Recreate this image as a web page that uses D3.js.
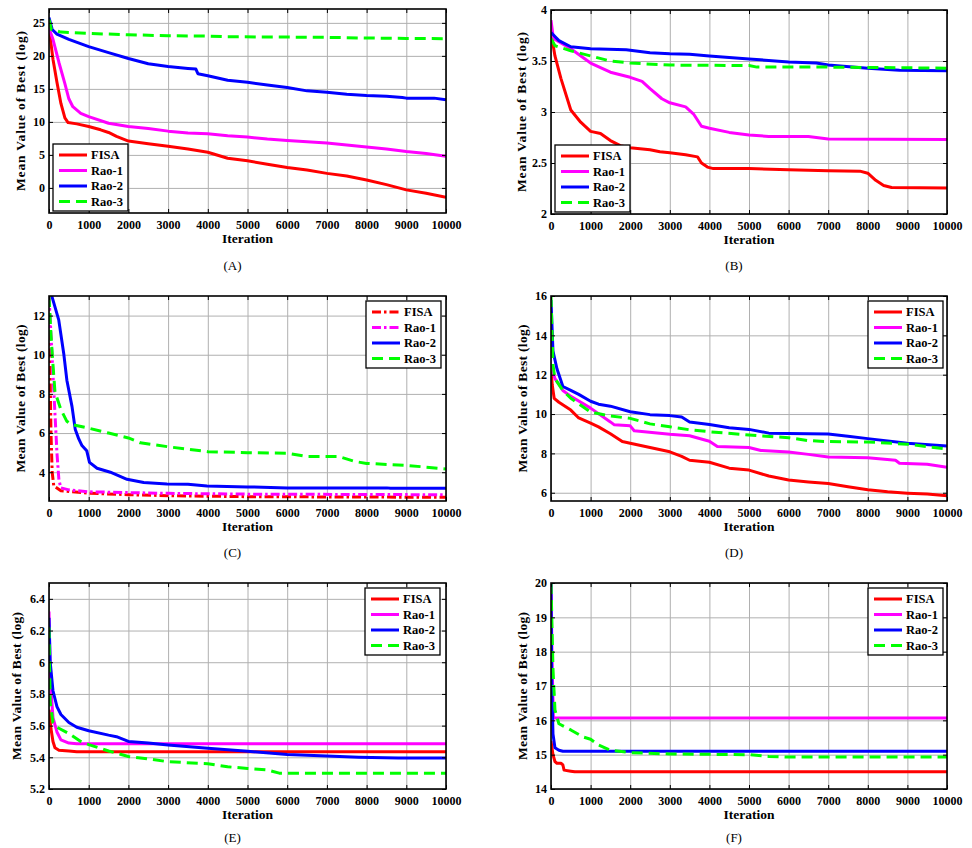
<!DOCTYPE html>
<html><head><meta charset="utf-8">
<script src="https://cdn.jsdelivr.net/npm/d3@7"></script>
<style>
body{margin:0;background:#fff}
svg{display:block}
text{font-family:"Liberation Serif","Times New Roman",serif}
</style>
</head><body>
<svg id="chart" width="972" height="848"></svg>
<script>
// ---------- shared ----------
const xTicks = [0,1000,2000,3000,4000,5000,6000,7000,8000,9000,10000];
const seriesNames = ["FISA","Rao-1","Rao-2","Rao-3"];
const seriesColors = ["#ff0000","#ff00ff","#0000ff","#00ff00"];
const panelLabels = ["(A)","(B)","(C)","(D)","(E)","(F)"];
const xTitle = "Iteration";
const yTitle = "Mean Value of Best (log)";

// ---------- panel A ----------
const yTicksA = [0,5,10,15,20,25];
const A_FISA = [[0,24.2],[100,19.5],[200,16],[300,12.8],[400,10.6],[480,9.9],[700,9.7],[1000,9.3],[1300,8.8],[1500,8.4],[1700,7.8],[2000,7.1],[2500,6.7],[3000,6.3],[3500,5.9],[4000,5.4],[4500,4.5],[5000,4.1],[5500,3.6],[6000,3.1],[6500,2.7],[7000,2.2],[7500,1.8],[8000,1.2],[8500,0.5],[9000,-0.3],[9500,-0.8],[10000,-1.4]];
const A_RAO1 = [[0,24.2],[100,22.5],[250,19],[400,15.8],[500,13.5],[600,12.3],[800,11.3],[1000,10.8],[1500,9.8],[2000,9.3],[2500,9.0],[3000,8.6],[3500,8.3],[4000,8.2],[4500,7.9],[5000,7.7],[5500,7.4],[6000,7.2],[6500,7.0],[7000,6.8],[7500,6.5],[8000,6.2],[8500,5.9],[9000,5.5],[9500,5.2],[10000,4.8]];
const A_RAO2 = [[0,25.8],[80,24],[200,23.3],[500,22.5],[1000,21.4],[1500,20.5],[2000,19.6],[2500,18.8],[3000,18.4],[3500,18.1],[3700,18.0],[3750,17.3],[4000,17.0],[4500,16.3],[5000,16.0],[5500,15.6],[6000,15.2],[6500,14.7],[7000,14.5],[7500,14.2],[8000,14.0],[8500,13.9],[8900,13.7],[9000,13.6],[9700,13.6],[10000,13.35]];
const A_RAO3 = [[0,25.5],[60,24],[300,23.6],[1000,23.4],[2000,23.2],[3000,23.05],[4000,23.0],[4500,22.9],[6000,22.85],[7000,22.8],[8000,22.7],[9000,22.65],[10000,22.6]];

// ---------- panel B ----------
const yTicksB = [2,2.5,3,3.5,4];
const B_FISA = [[0,3.78],[100,3.55],[250,3.33],[500,3.02],[750,2.9],[1000,2.81],[1250,2.79],[1500,2.72],[1750,2.67],[2000,2.65],[2500,2.63],[2750,2.61],[3000,2.6],[3400,2.58],[3700,2.56],[3800,2.5],[3950,2.46],[4100,2.445],[5000,2.445],[6000,2.435],[7000,2.425],[7800,2.42],[8000,2.4],[8200,2.33],[8400,2.28],[8600,2.26],[10000,2.255]];
const B_RAO1 = [[0,3.9],[60,3.72],[500,3.62],[1000,3.48],[1500,3.39],[2000,3.34],[2300,3.3],[2500,3.23],[2800,3.13],[3000,3.09],[3400,3.05],[3600,2.98],[3800,2.86],[4000,2.84],[4500,2.8],[5000,2.775],[5500,2.76],[6500,2.76],[7000,2.735],[10000,2.73]];
const B_RAO2 = [[0,3.78],[200,3.7],[500,3.64],[1000,3.62],[1900,3.61],[2500,3.58],[3000,3.57],[3500,3.565],[4000,3.55],[5000,3.52],[6000,3.49],[6700,3.48],[7000,3.46],[8000,3.43],[8800,3.41],[10000,3.405]];
const B_RAO3 = [[0,3.72],[100,3.65],[500,3.6],[1000,3.55],[1500,3.5],[2000,3.48],[3000,3.46],[5000,3.455],[5200,3.44],[7000,3.44],[10000,3.43]];

// ---------- panel C ----------
const yTicksC = [4,6,8,10,12];
const C_FISA = [[0,13],[20,10],[50,6],[80,4],[120,3.3],[300,3.05],[1000,2.93],[2000,2.85],[3000,2.8],[5000,2.75],[10000,2.72]];
const C_RAO1 = [[0,13],[100,9],[150,7],[200,5],[250,3.6],[300,3.2],[500,3.1],[1000,3.0],[2000,2.96],[3000,2.92],[5000,2.88],[10000,2.85]];
const C_RAO2 = [[0,14],[75,12.97],[245,11.78],[370,10.08],[450,8.7],[580,7.35],[660,6.2],[750,5.7],[830,5.36],[950,5.1],[1020,4.5],[1210,4.2],[1545,4.0],[1965,3.64],[2385,3.47],[2970,3.4],[3500,3.38],[3980,3.3],[4990,3.25],[6000,3.2],[8510,3.2],[8600,3.18],[10000,3.18]];
const C_RAO3 = [[0,13],[50,11],[100,9.5],[150,8.1],[300,7.2],[450,6.6],[550,6.45],[1000,6.25],[1500,6.0],[2000,5.75],[2300,5.5],[3000,5.3],[4000,5.05],[5000,5.0],[6000,4.97],[6500,4.8],[7300,4.8],[7700,4.55],[8000,4.45],[9000,4.35],[10000,4.17]];

// ---------- panel D ----------
const yTicksD = [6,8,10,12,14,16];
const D_FISA = [[0,12.4],[30,11.5],[80,10.8],[200,10.6],[500,10.2],[700,9.8],[1000,9.54],[1200,9.35],[1500,9.0],[1800,8.6],[2000,8.52],[2500,8.3],[3000,8.08],[3300,7.85],[3500,7.65],[4000,7.55],[4500,7.25],[5000,7.15],[5500,6.85],[6000,6.65],[6500,6.55],[7000,6.47],[7500,6.3],[8000,6.15],[8500,6.05],[9000,5.98],[9500,5.93],[10000,5.85]];
const D_RAO1 = [[0,12.5],[100,11.8],[300,11.2],[500,10.9],[1000,10.3],[1500,9.6],[1600,9.45],[2000,9.4],[2100,9.15],[3000,8.97],[3500,8.9],[4000,8.62],[4200,8.35],[5000,8.3],[5300,8.15],[6000,8.07],[6500,7.95],[7000,7.82],[8000,7.78],[8700,7.65],[8800,7.5],[9500,7.45],[10000,7.3]];
const D_RAO2 = [[0,15.8],[50,13.2],[150,12.3],[300,11.4],[500,11.2],[700,11.0],[1000,10.65],[1200,10.5],[1500,10.4],[2000,10.12],[2500,9.97],[3000,9.92],[3300,9.85],[3500,9.6],[4000,9.47],[4500,9.3],[5000,9.22],[5500,9.03],[7000,8.98],[7500,8.87],[8000,8.75],[9000,8.52],[10000,8.38]];
const D_RAO3 = [[0,16],[50,12.5],[100,11.8],[300,11.2],[500,10.8],[1000,10.1],[1500,9.9],[2000,9.78],[2500,9.5],[3000,9.35],[3500,9.2],[4000,9.1],[5000,8.93],[6000,8.8],[6500,8.65],[7000,8.6],[8000,8.58],[9000,8.47],[10000,8.22]];

// ---------- panel E ----------
const yTicksE = [5.2,5.4,5.6,5.8,6,6.2,6.4];
const E_FISA = [[0,5.7],[50,5.58],[100,5.5],[150,5.46],[250,5.445],[500,5.44],[700,5.435],[10000,5.435]];
const E_RAO1 = [[0,6.32],[30,5.9],[100,5.65],[200,5.56],[300,5.51],[500,5.49],[700,5.485],[10000,5.485]];
const E_RAO2 = [[0,6.28],[30,6.0],[100,5.82],[200,5.72],[300,5.67],[500,5.62],[700,5.59],[1000,5.568],[1500,5.54],[1700,5.53],[2000,5.5],[2500,5.49],[3000,5.478],[4000,5.457],[5000,5.438],[6000,5.418],[7000,5.408],[7800,5.4],[8800,5.395],[10000,5.395]];
const E_RAO3 = [[0,6.22],[30,5.75],[100,5.62],[200,5.59],[500,5.55],[800,5.5],[1000,5.48],[1500,5.44],[2000,5.405],[2500,5.39],[3000,5.372],[4000,5.36],[4500,5.34],[5000,5.33],[5500,5.32],[5800,5.3],[10000,5.3]];

// ---------- panel F ----------
const yTicksF = [14,15,16,17,18,19,20];
const F_FISA = [[0,15.4],[50,15.0],[100,14.8],[150,14.75],[250,14.75],[300,14.7],[330,14.55],[500,14.52],[600,14.5],[10000,14.5]];
const F_RAO1 = [[0,20],[30,17.5],[60,16.1],[100,16.07],[10000,16.07]];
const F_RAO2 = [[0,20],[20,17],[50,15.6],[100,15.2],[200,15.13],[300,15.1],[10000,15.1]];
const F_RAO3 = [[0,20],[50,17.5],[100,16.3],[150,16.1],[200,15.9],[500,15.72],[800,15.52],[1000,15.45],[1200,15.28],[1500,15.13],[2000,15.06],[3000,15.02],[5000,15.0],[5500,14.95],[6000,14.93],[10000,14.93]];

// ---------- layout / style ----------
const DASH = "11,6", DASHDOT = "9,3,2.5,3";
const panels = [
  {left:49, top:9,   w:397, h:204, yDom:[-3.8,27.1], yTicks:yTicksA, series:[A_FISA,A_RAO1,A_RAO2,A_RAO3], legend:"bl", dashes:[null,null,null,DASH], labelY:265, titleX:25, titleLen:160, legRight:4},
  {left:551,top:10,  w:396, h:204, yDom:[2,4],       yTicks:yTicksB, series:[B_FISA,B_RAO1,B_RAO2,B_RAO3], legend:"bl", dashes:[null,null,null,DASH], labelY:265, titleX:526, titleLen:160, legRight:4},
  {left:49, top:296, w:397, h:205, yDom:[2.53,13],   yTicks:yTicksC, series:[C_FISA,C_RAO1,C_RAO2,C_RAO3], legend:"tr", dashes:[DASHDOT,DASHDOT,null,DASH], labelY:552, titleX:25, titleLen:148, legRight:5},
  {left:551,top:296, w:396, h:205, yDom:[5.58,16],   yTicks:yTicksD, series:[D_FISA,D_RAO1,D_RAO2,D_RAO3], legend:"tr", dashes:[null,null,null,DASH], labelY:552, titleX:527, titleLen:148, legRight:4},
  {left:49, top:583, w:397, h:206, yDom:[5.2,6.5],   yTicks:yTicksE, series:[E_FISA,E_RAO1,E_RAO2,E_RAO3], legend:"tr", dashes:[null,null,null,DASH], labelY:837, titleX:21, titleLen:148, legRight:6},
  {left:551,top:583, w:396, h:206, yDom:[14,20],     yTicks:yTicksF, series:[F_FISA,F_RAO1,F_RAO2,F_RAO3], legend:"tr", dashes:[null,null,null,DASH], labelY:837, titleX:527, titleLen:148, legRight:4}
];

const svg = d3.select("#chart");
const defs = svg.append("defs");

panels.forEach((p, pi) => {
  const x = d3.scaleLinear().domain([0,10000]).range([0,p.w]);
  const y = d3.scaleLinear().domain(p.yDom).range([p.h,0]);
  const g = svg.append("g").attr("transform",`translate(${p.left},${p.top})`);

  defs.append("clipPath").attr("id","clip"+pi)
    .append("rect").attr("x",0).attr("y",0).attr("width",p.w).attr("height",p.h);

  g.append("rect").attr("width",p.w).attr("height",p.h).attr("fill","#fff");

  // grid
  const gx = g.append("g").attr("transform",`translate(0,${p.h})`)
    .call(d3.axisBottom(x).tickValues(xTicks).tickSize(-p.h).tickFormat(""));
  const gy = g.append("g")
    .call(d3.axisLeft(y).tickValues(p.yTicks).tickSize(-p.w).tickFormat(""));
  [gx,gy].forEach(a => {
    a.select(".domain").remove();
    a.selectAll("line").attr("stroke","#b0b0b0").attr("stroke-width",1);
  });

  // lines
  const line = d3.line().x(d => x(d[0])).y(d => y(d[1]));
  const lg = g.append("g").attr("clip-path",`url(#clip${pi})`);
  p.series.forEach((s, si) => {
    lg.append("path").datum(s).attr("d",line)
      .attr("fill","none").attr("stroke",seriesColors[si])
      .attr("stroke-width",3).attr("stroke-linejoin","round")
      .attr("stroke-dasharray",p.dashes[si]);
  });

  // axes with inward ticks
  const fmt = d3.format("~g");
  const ab = g.append("g").attr("transform",`translate(0,${p.h})`)
    .call(d3.axisBottom(x).tickValues(xTicks).tickSizeInner(-4).tickSizeOuter(0).tickPadding(7).tickFormat(fmt));
  const al = g.append("g")
    .call(d3.axisLeft(y).tickValues(p.yTicks).tickSizeInner(-4).tickSizeOuter(0).tickPadding(4).tickFormat(fmt));
  const at = g.append("g")
    .call(d3.axisTop(x).tickValues(xTicks).tickSizeInner(-4).tickSizeOuter(0).tickFormat(""));
  const ar = g.append("g").attr("transform",`translate(${p.w},0)`)
    .call(d3.axisRight(y).tickValues(p.yTicks).tickSizeInner(-4).tickSizeOuter(0).tickFormat(""));
  [ab,al,at,ar].forEach(a => {
    a.select(".domain").remove();
    a.selectAll("line").attr("stroke","#000").attr("stroke-width",1);
    a.selectAll("text").attr("fill","#000").attr("font-size","12px").attr("font-weight","bold")
      .attr("font-family","'Liberation Serif','Times New Roman',serif");
  });

  // box
  g.append("rect").attr("width",p.w).attr("height",p.h)
    .attr("fill","none").attr("stroke","#000").attr("stroke-width",1.6);

  // titles
  g.append("text").attr("x",p.w/2).attr("y",p.h+30).attr("text-anchor","middle")
    .attr("font-size","13.5px").attr("font-weight","bold").text(xTitle);
  svg.append("text").attr("transform",`translate(${p.titleX},${p.top + p.h/2}) rotate(-90)`)
    .attr("text-anchor","middle").attr("font-size","13.5px").attr("font-weight","bold")
    .attr("textLength", p.titleLen).attr("lengthAdjust","spacing")
    .text(yTitle);

  // panel label
  svg.append("text").attr("x",p.left+p.w/2-15).attr("y",p.labelY+4.5).attr("text-anchor","middle")
    .attr("font-size","13px").text(panelLabels[pi]);

  // legend
  const LW = 75, LH = 67;
  const lx = p.legend==="bl" ? 4 : p.w-p.legRight-LW;
  const ly = p.legend==="bl" ? p.h-2-LH : 5;
  const leg = g.append("g").attr("transform",`translate(${lx},${ly})`);
  leg.append("rect").attr("width",LW).attr("height",LH).attr("fill","#fff")
    .attr("stroke","#000").attr("stroke-width",1.3);
  seriesNames.forEach((n, si) => {
    const yy = 11 + si*15.5;
    leg.append("line").attr("x1",6).attr("x2",34).attr("y1",yy).attr("y2",yy)
      .attr("stroke",seriesColors[si]).attr("stroke-width",3)
      .attr("stroke-dasharray",p.dashes[si]);
    leg.append("text").attr("x",38).attr("y",yy+4.3).attr("font-size","12.5px")
      .attr("font-weight","bold").text(n);
  });
});
</script>
</body></html>
